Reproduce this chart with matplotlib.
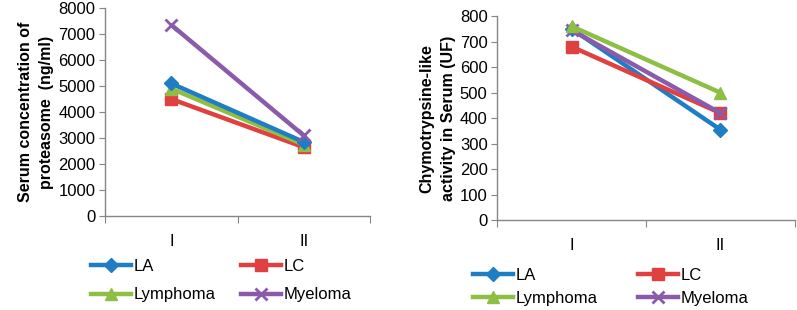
import matplotlib
matplotlib.use("Agg")
import matplotlib.pyplot as plt
from matplotlib.lines import Line2D

categories = ["I", "II"]
series_names = ["LA", "LC", "Lymphoma", "Myeloma"]
proteasome = {
    "LA": [5100, 2850],
    "LC": [4500, 2650],
    "Lymphoma": [4900, 2750],
    "Myeloma": [7350, 3100],
}
chymo = {
    "LA": [750, 355],
    "LC": [680, 420],
    "Lymphoma": [760, 500],
    "Myeloma": [745, 420],
}
colors = {"LA": "#1F7DC4", "LC": "#E0403F", "Lymphoma": "#8CBF44", "Myeloma": "#8B5BAB"}
markers = {"LA": "D", "LC": "s", "Lymphoma": "^", "Myeloma": "x"}
msizes = {"LA": 7, "LC": 9, "Lymphoma": 9, "Myeloma": 9}

plt.rcParams['font.family'] = ['Liberation Sans', 'DejaVu Sans']
FS = 12

fig = plt.figure(figsize=(7.97, 3.10), dpi=100)

def draw(ax, data, ymax, ystep, ylabel, order):
    x = list(range(len(categories)))
    for name in order:
        ax.plot(x, data[name], color=colors[name], lw=3.2, marker=markers[name],
                ms=msizes[name], mew=2 if markers[name] == "x" else 1,
                mec=colors[name], mfc=colors[name], solid_capstyle='butt')
    ax.set_xlim(-0.5, len(categories) - 0.5)
    ax.set_ylim(0, ymax)
    ax.set_yticks(range(0, ymax + 1, ystep))
    ax.set_xticks([i - 0.5 for i in range(len(categories) + 1)], minor=False)
    ax.set_xticklabels([""] * (len(categories) + 1))
    ax.set_xticks(x, minor=True)
    ax.set_xticklabels(categories, minor=True)
    ax.tick_params(axis='x', which='minor', length=0, pad=13, labelsize=FS)
    ax.tick_params(axis='x', which='major', length=5, color='#868686', direction='out')
    ax.tick_params(axis='y', length=4, color='#868686', labelsize=FS, pad=3)
    for s in ['top', 'right']:
        ax.spines[s].set_visible(False)
    for s in ['left', 'bottom']:
        ax.spines[s].set_color('#868686')
        ax.spines[s].set_linewidth(1)
    ax.set_ylabel(ylabel, fontsize=11.5, fontweight='bold', labelpad=3, linespacing=1.55)

ax1 = fig.add_axes([0.132, 0.303, 0.332, 0.671])
draw(ax1, proteasome, 8000, 1000, "Serum concentration of\nproteasome  (ng/ml)",
     ["LC", "Lymphoma", "LA", "Myeloma"])
ax2 = fig.add_axes([0.624, 0.29, 0.373, 0.658])
draw(ax2, chymo, 800, 100, "Chymotrypsine-like\nactivity in Serum (UF)",
     ["LA", "LC", "Myeloma", "Lymphoma"])

def legend(x0, y0, colspace, labspace):
    order = [series_names[0], series_names[2], series_names[1], series_names[3]]
    handles = [Line2D([], [], color=colors[n], lw=3.2, marker=markers[n], ms=msizes[n],
                      mew=2 if markers[n] == "x" else 1) for n in order]
    fig.legend(handles, order, loc='upper left', bbox_to_anchor=(x0, y0),
               ncol=2, frameon=False, fontsize=FS, handlelength=2.4,
               handletextpad=0.15, columnspacing=colspace, labelspacing=labspace,
               borderaxespad=0, borderpad=0)

legend(91 / 797, 1 - 259 / 310, 1.55, 0.8)
legend(473 / 797, 1 - 268 / 310, 2.45, 0.45)

fig.savefig("out.png", dpi=100)
